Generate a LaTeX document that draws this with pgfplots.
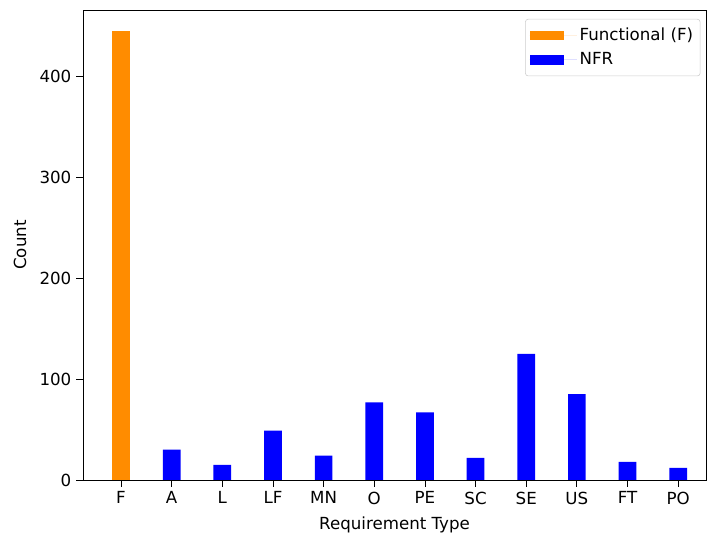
\documentclass[border=0pt]{standalone}
\usepackage{fontspec}
\setmainfont{DejaVu Sans}
\usepackage{pgfplots}
\pgfplotsset{compat=1.18}

\definecolor{forange}{RGB}{255,140,0}
\definecolor{nfrblue}{RGB}{0,0,255}

\begin{document}
\begin{tikzpicture}
  \begin{axis}[
    scale only axis,
    width=448.6pt,
    height=338.4pt,
    ybar,
    bar width=0.35,
    xmin=-0.75, xmax=11.55,
    ymin=0, ymax=466,
    xtick={0,...,11},
    xticklabels={F,A,L,LF,MN,O,PE,SC,SE,US,FT,PO},
    ytick={0,100,200,300,400},
    tick align=outside,
    xtick pos=bottom,
    ytick pos=left,
    major tick length=4.9pt,
    tick style={black, line width=0.6pt},
    axis line style={line width=0.6pt},
    /pgf/number format/assume math mode=true,
    ticklabel style={font=\fontsize{12}{14}\selectfont},
    label style={font=\fontsize{12}{14}\selectfont},
    xlabel={Requirement Type},
    ylabel={Count},
    xlabel style={at={(axis description cs:0.5,0)}, anchor=base, yshift=-36pt},
    ylabel style={at={(axis description cs:0,0.5)}, anchor=center, yshift=45.4pt},
    legend style={
      at={(0.991,0.981)}, anchor=north east,
      draw={rgb,255:red,204;green,204;blue,204},
      rounded corners=2pt,
      font=\fontsize{12}{14}\selectfont,
      row sep=3pt,
      inner xsep=3pt, inner ysep=4.5pt,
    },
    legend cell align=left,
  ]
    \addplot[fill=forange, draw=none, bar shift=0pt,
      legend image code/.code={
        \fill[forange, sharp corners] (0pt,-3.5pt) rectangle (25pt,3.5pt);
        \path (0pt,0pt) -- (34pt,0pt);}]
      coordinates {(0,445)};
    \addlegendentry{Functional (F)}
    \addplot[fill=nfrblue, draw=none, bar shift=0pt,
      legend image code/.code={
        \fill[nfrblue, sharp corners] (0pt,-3.5pt) rectangle (25pt,3.5pt);
        \path (0pt,0pt) -- (34pt,0pt);}]
      coordinates {
        (1,30) (2,15) (3,49) (4,24) (5,77) (6,67)
        (7,22) (8,125) (9,85) (10,18) (11,12)
      };
    \addlegendentry{NFR}
  \end{axis}
  \pgfresetboundingbox
  \path (current axis.south west) ++(-59.8pt,-41pt) coordinate (bl);
  \path (current axis.north east) ++(0.7pt,7.2pt) coordinate (tr);
  \path (bl) rectangle (tr);
\end{tikzpicture}
\end{document}
